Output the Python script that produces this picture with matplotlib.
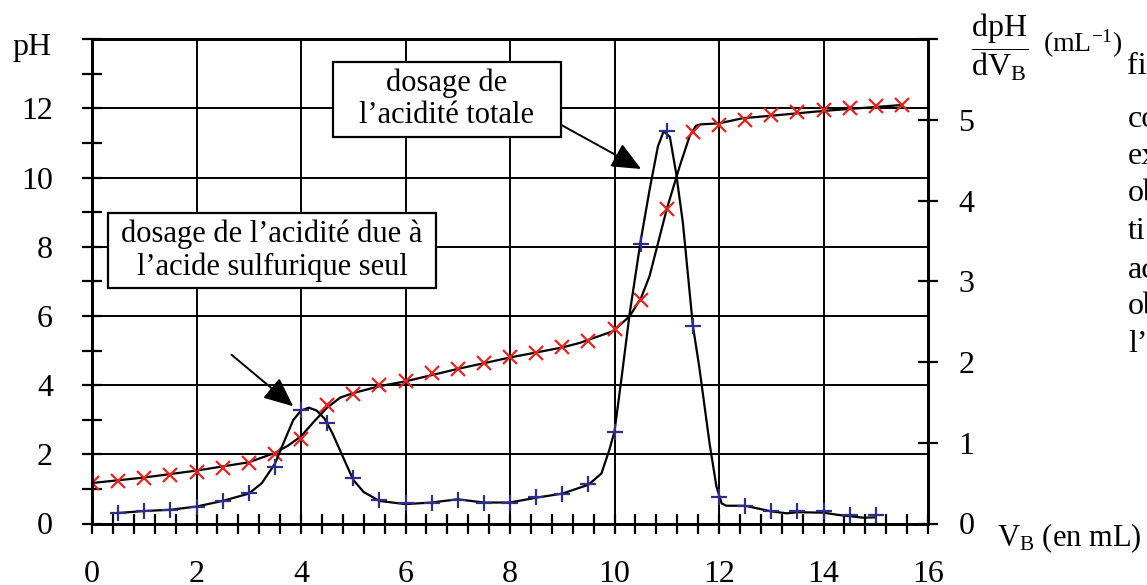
import matplotlib
matplotlib.use('Agg')
import matplotlib.pyplot as plt
from matplotlib.ticker import MultipleLocator, FixedLocator, FixedFormatter
from matplotlib.patches import Rectangle

plt.rcParams['font.family'] = ['Liberation Serif', 'DejaVu Serif']
plt.rcParams['mathtext.fontset'] = 'custom'
plt.rcParams['mathtext.rm'] = 'Liberation Serif'
plt.rcParams['mathtext.it'] = 'Liberation Serif:italic'

# measured pH values (red crosses)
vb_ph = [0.0, 0.5, 1.0, 1.5, 2.0, 2.5, 3.0, 3.5, 4.0, 4.5, 5.0, 5.5, 6.0, 6.5, 7.0, 7.5,
         8.0, 8.5, 9.0, 9.5, 10.0, 10.5, 11.0, 11.5, 12.0, 12.5, 13.0, 13.5, 14.0, 14.5, 15.0, 15.5]
ph = [1.17, 1.24, 1.31, 1.39, 1.48, 1.60, 1.74, 2.00, 2.44, 3.43, 3.75, 4.01, 4.11, 4.35, 4.48, 4.65,
      4.80, 4.94, 5.09, 5.27, 5.61, 6.46, 9.09, 11.33, 11.52, 11.68, 11.81, 11.89, 11.97, 12.00, 12.06, 12.10]

# derivative dpH/dVB (blue plus signs)
vb_der = [0.5, 1.0, 1.5, 2.0, 2.5, 3.0, 3.5, 4.0, 4.5, 5.0, 5.5, 6.0, 6.5, 7.0, 7.5,
          8.0, 8.5, 9.0, 9.5, 10.0, 10.5, 11.0, 11.5, 12.0, 12.5, 13.0, 13.5, 14.0, 14.5, 15.0]
der = [0.13, 0.16, 0.17, 0.20, 0.28, 0.38, 0.70, 1.41, 1.24, 0.56, 0.29, 0.25, 0.26, 0.29, 0.25,
       0.26, 0.33, 0.37, 0.49, 1.13, 3.46, 4.86, 2.45, 0.33, 0.22, 0.15, 0.15, 0.15, 0.10, 0.10]

# hand drawn smooth curves
curve_ph_x = [0.0, 1.0, 2.0, 3.0, 3.5, 3.75, 4.0, 4.25, 4.5, 4.75, 5.0, 5.5, 6.0, 7.0, 8.0, 9.0,
              9.33, 9.97, 10.29, 10.51, 10.67, 11.0, 11.25, 11.44, 11.56, 11.65, 12.0, 12.46, 13.0, 14.0, 15.5]
curve_ph_y = [1.17, 1.33, 1.53, 1.77, 2.04, 2.25, 2.52, 2.95, 3.35, 3.64, 3.77, 3.97, 4.11, 4.47, 4.80, 5.09,
              5.22, 5.56, 5.99, 6.53, 7.15, 9.09, 10.34, 11.21, 11.50, 11.54, 11.57, 11.72, 11.79, 11.93, 12.10]

curve_der_x = [0.5, 1.0, 1.5, 2.0, 2.5, 3.0, 3.25, 3.5, 3.7, 3.85, 4.0, 4.15, 4.3, 4.45, 4.6, 4.8, 5.0, 5.2,
               5.5, 6.0, 6.5, 7.0, 7.5, 8.0, 8.5, 9.0, 9.5, 9.75, 9.9, 10.0, 10.13, 10.29, 10.5, 10.67,
               10.83, 10.94, 11.06, 11.18, 11.31, 11.5, 11.62, 11.82, 11.95, 12.05, 12.14, 12.5, 13.0,
               13.3, 13.5, 14.0, 14.3, 14.76, 15.0]
curve_der_y = [0.13, 0.155, 0.17, 0.21, 0.28, 0.37, 0.50, 0.74, 1.05, 1.28, 1.40, 1.435, 1.40, 1.30, 1.12, 0.83, 0.54, 0.39,
               0.28, 0.24, 0.26, 0.30, 0.26, 0.26, 0.32, 0.37, 0.48, 0.62, 0.91, 1.14, 1.78, 2.60, 3.50, 4.13,
               4.67, 4.86, 4.79, 4.34, 3.72, 2.45, 1.95, 0.99, 0.46, 0.25, 0.22, 0.22, 0.15,
               0.126, 0.14, 0.134, 0.105, 0.072, 0.076]

x_ticks = [0, 2, 4, 6, 8, 10, 12, 14, 16]
ph_ticks = [0, 2, 4, 6, 8, 10, 12]
der_ticks = [0, 1, 2, 3, 4, 5, 6]
der_labels = ['0', '1', '2', '3', '4', '5', '']

W, H = 1147, 585
FS = 23
BOX_FS = 22


def fx(px):
    return px / W


def fy(py):
    return 1 - py / H


fig = plt.figure(figsize=(W / 100, H / 100), dpi=100)
ax = fig.add_axes([fx(92), fy(523.5), fx(928) - fx(92), fy(39.3) - fy(523.5)])
ax2 = ax.twinx()

# axes, grid and ticks
ax.set_xlim(0, 16)
ax.set_ylim(0, 14)
ax2.set_ylim(0, 6)
ax.xaxis.set_major_locator(FixedLocator(x_ticks))
ax.xaxis.set_minor_locator(MultipleLocator(0.4))
ax.yaxis.set_major_locator(FixedLocator(ph_ticks))
ax.yaxis.set_minor_locator(MultipleLocator(1))
ax.grid(which='major', color='black', lw=1.4)
ax.set_axisbelow(True)
ax.tick_params(axis='both', which='both', direction='inout', length=14, width=1.6, labelsize=FS)
ax.tick_params(axis='x', pad=19)
ax.tick_params(axis='y', pad=21)
ax2.yaxis.set_major_locator(FixedLocator(der_ticks))
ax2.yaxis.set_major_formatter(FixedFormatter(der_labels))
ax2.tick_params(axis='y', direction='inout', length=14, width=1.6, labelsize=FS, pad=15)
for a in (ax, ax2):
    for s in a.spines.values():
        s.set_linewidth(2)

# pH curve and points
ax.plot(curve_ph_x, curve_ph_y, color='black', lw=1.6, zorder=3)
ax.plot(vb_ph, ph, ls='none', marker='x', ms=10, mew=1.6, color='#e8231f', zorder=4)

# derivative curve and points
ax2.plot(curve_der_x, curve_der_y, color='black', lw=1.6, zorder=3)
ax2.plot(vb_der, der, ls='none', marker='+', ms=12, mew=1.6, color='#2e2e8a', zorder=4)

# arrows from the boxes
arrow_style = dict(arrowstyle='-|>,head_length=0.9,head_width=0.4', color='black',
                   lw=1.4, mutation_scale=20, shrinkA=0, shrinkB=0)
ax.annotate('', xy=(10.51, 10.25), xytext=(8.95, 11.55), arrowprops=arrow_style)
ax.annotate('', xy=(3.85, 3.39), xytext=(2.67, 4.88), arrowprops=arrow_style)

# text boxes
boxes = [
    ((332.7, 61.7, 560.7, 137.3), 'dosage de\nl\u2019acidité totale'),
    ((108.3, 213.3, 436.0, 288.3), 'dosage de l\u2019acidité due à\nl\u2019acide sulfurique seul'),
]
for (x0, y0, x1, y1), txt in boxes:
    fig.add_artist(Rectangle((fx(x0), fy(y1)), fx(x1) - fx(x0), fy(y0) - fy(y1),
                             transform=fig.transFigure, facecolor='white', edgecolor='black',
                             lw=1.6, zorder=5))
    fig.text(fx((x0 + x1) / 2), fy((y0 + y1) / 2), txt, ha='center', va='center',
             fontsize=BOX_FS, linespacing=1.15, zorder=6)

# axis titles
fig.text(fx(32), fy(47), 'pH', ha='center', va='center', fontsize=FS)
fig.text(fx(1000), fy(47), r'$\dfrac{\mathrm{dpH}}{\mathrm{dV_B}}$', ha='center', va='center', fontsize=FS)
fig.text(fx(1043), fy(44), r'(mL$^{-1}$)', ha='left', va='center', fontsize=20)
fig.text(fx(1127), fy(67), 'fi', ha='left', va='center', fontsize=FS)
fig.text(fx(997), fy(538), r'V$_\mathrm{B}$ (en mL)', ha='left', va='center', fontsize=22)

# text of the surrounding page, cut at the edge
side_words = ['co', 'ex', 'ob', 'ti', 'ac', 'ob', 'l\u2019']
side_y = [120, 157, 194, 232, 270, 307, 345]
for word, yy in zip(side_words, side_y):
    fig.text(fx(1128), fy(yy), word, ha='left', va='center', fontsize=FS)

fig.savefig('out.png', dpi=100)
